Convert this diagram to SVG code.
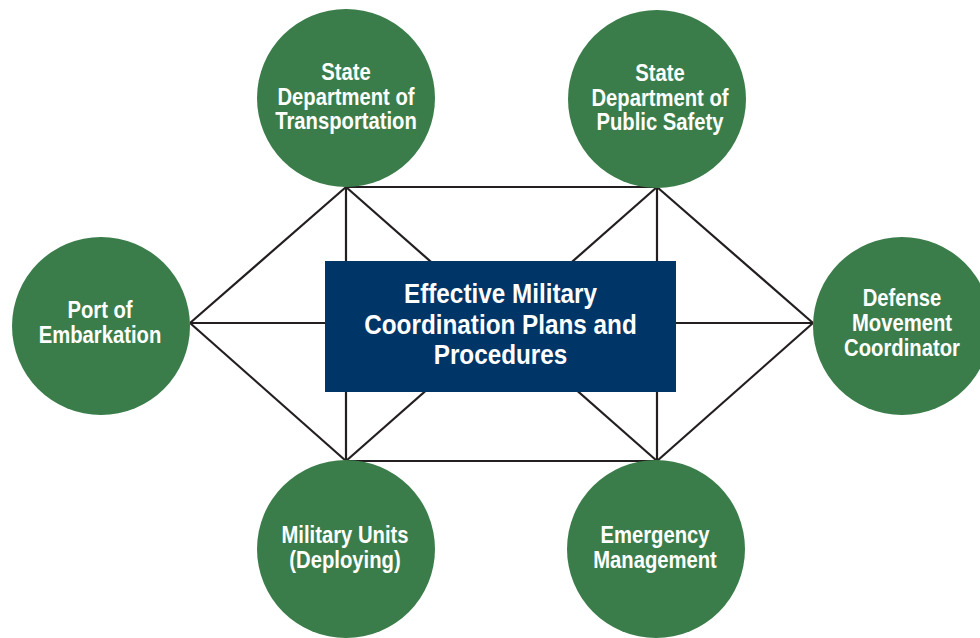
<svg xmlns="http://www.w3.org/2000/svg" width="980" height="638" viewBox="0 0 980 638">
<style>
.ln{stroke:#231f20;stroke-width:2.2;fill:none}
.c{fill:#3b7d4a}
.t{font-family:"Liberation Sans",Arial,sans-serif;font-weight:bold;font-size:23px;fill:#fff;text-anchor:middle}
.tc{font-family:"Liberation Sans",Arial,sans-serif;font-weight:bold;font-size:27px;fill:#fff;text-anchor:middle}
</style>
<rect width="980" height="638" fill="#fff"/>
<g id="connectors">
<line class="ln" x1="346" y1="187" x2="657" y2="187"/>
<line class="ln" x1="346" y1="461" x2="657" y2="461"/>
<line class="ln" x1="346" y1="187" x2="346" y2="461"/>
<line class="ln" x1="657" y1="187" x2="657" y2="461"/>
<line class="ln" x1="190" y1="323" x2="346" y2="187"/>
<line class="ln" x1="190" y1="323" x2="346" y2="461"/>
<line class="ln" x1="190" y1="323" x2="813" y2="323"/>
<line class="ln" x1="813" y1="323" x2="657" y2="187"/>
<line class="ln" x1="813" y1="323" x2="657" y2="461"/>
<line class="ln" x1="346" y1="187" x2="657" y2="461"/>
<line class="ln" x1="657" y1="187" x2="346" y2="461"/>
</g>
<g id="center">
<rect x="325" y="261" width="351" height="131" fill="#003567"/>
<g transform="translate(500.5 0) scale(0.9 1)">
<text class="tc" x="0" y="303">Effective Military</text>
<text class="tc" x="0" y="334">Coordination Plans and</text>
<text class="tc" x="0" y="364">Procedures</text>
</g>
</g>
<g id="dot">
<circle class="c" cx="346" cy="98" r="89"/>
<g transform="translate(346 0) scale(0.88 1)">
<text class="t" x="0" y="80">State</text>
<text class="t" x="0" y="105">Department of</text>
<text class="t" x="0" y="129">Transportation</text>
</g>
</g>
<g id="dps">
<circle class="c" cx="657" cy="99" r="89"/>
<g transform="translate(660 0) scale(0.88 1)">
<text class="t" x="0" y="81">State</text>
<text class="t" x="0" y="106">Department of</text>
<text class="t" x="0" y="130">Public Safety</text>
</g>
</g>
<g id="port">
<circle class="c" cx="101" cy="326" r="89"/>
<g transform="translate(100 0) scale(0.88 1)">
<text class="t" x="0" y="318">Port of</text>
<text class="t" x="0" y="343">Embarkation</text>
</g>
</g>
<g id="dmc">
<circle class="c" cx="902" cy="326" r="89"/>
<g transform="translate(902 0) scale(0.88 1)">
<text class="t" x="0" y="306">Defense</text>
<text class="t" x="0" y="331">Movement</text>
<text class="t" x="0" y="356">Coordinator</text>
</g>
</g>
<g id="units">
<circle class="c" cx="346" cy="549" r="89"/>
<g transform="translate(345 0) scale(0.88 1)">
<text class="t" x="0" y="543">Military Units</text>
<text class="t" x="0" y="568">(Deploying)</text>
</g>
</g>
<g id="em">
<circle class="c" cx="656" cy="549" r="89"/>
<g transform="translate(655 0) scale(0.88 1)">
<text class="t" x="0" y="543">Emergency</text>
<text class="t" x="0" y="568">Management</text>
</g>
</g>
</svg>
